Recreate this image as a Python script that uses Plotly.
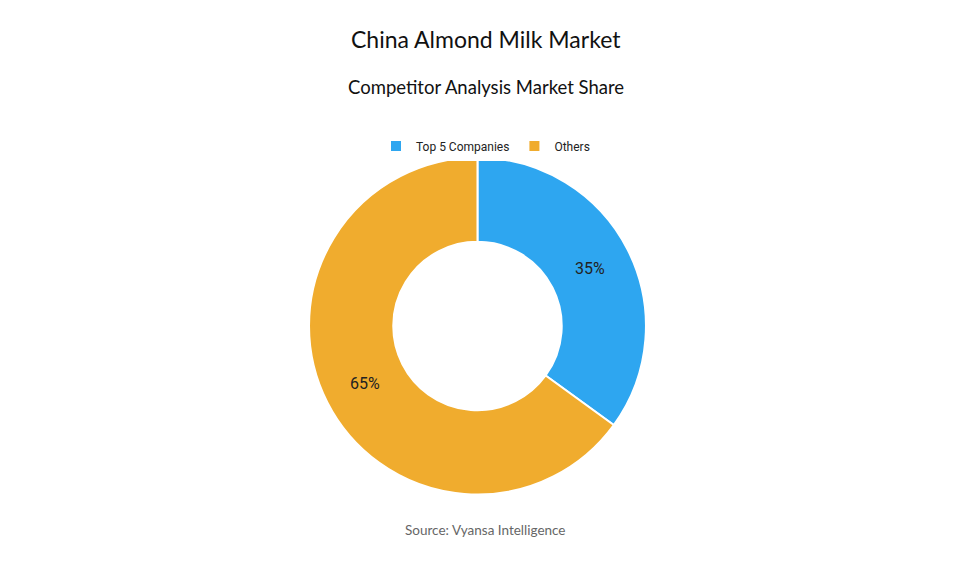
import plotly.graph_objects as go

labels = ["Top 5 Companies", "Others"]
values = [35, 65]
colors = ["#2EA6F0", "#F0AC2E"]

fig = go.Figure(go.Pie(
    labels=labels, values=values, hole=0.5, sort=False, direction="clockwise",
    rotation=0, marker=dict(colors=colors, line=dict(color="white", width=2)),
    texttemplate="%{percent:.0%}", textposition="inside", insidetextorientation="horizontal",
    textfont=dict(family="Roboto", size=16, color="#222"),
    domain=dict(x=[0.1916, 0.7916], y=[0.151, 0.739]),
))
fig.update_layout(
    width=955, height=573, margin=dict(l=0, r=0, t=0, b=0),
    paper_bgcolor="white", plot_bgcolor="white",
    font=dict(family="Lato"),
    legend=dict(orientation="h", x=0.5, xanchor="center", y=1-138/573, yanchor="middle",
                font=dict(family="Roboto", size=12, color="#222"), traceorder="normal"),
    annotations=[
        dict(text="China Almond Milk Market", x=0.5, y=1-31/573, xref="paper", yref="paper",
             yanchor="middle", showarrow=False, font=dict(family="Lato", size=23, color="#111")),
        dict(text="Competitor Analysis Market Share", x=0.5, y=1-79/573, xref="paper", yref="paper",
             yanchor="middle", showarrow=False, font=dict(family="Lato", size=18.5, color="#111")),
        dict(text="Source: Vyansa Intelligence", x=0.5, y=1-522/573, xref="paper", yref="paper",
             yanchor="middle", showarrow=False, font=dict(family="Lato", size=13.5, color="#666")),
    ],
)
fig.write_html("out.html")
